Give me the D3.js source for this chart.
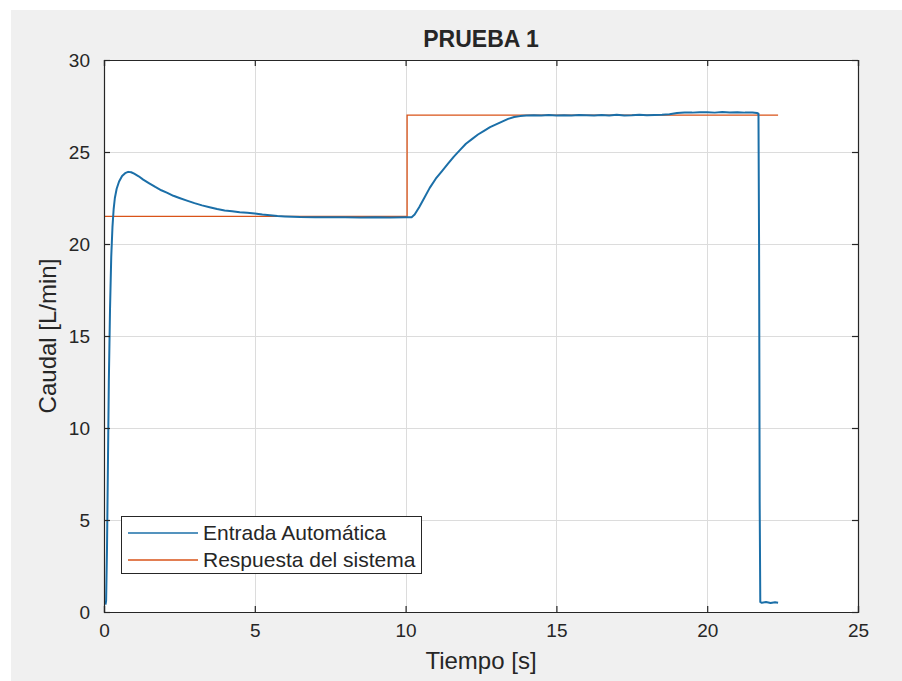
<!DOCTYPE html>
<html>
<head>
<meta charset="utf-8">
<script src="https://cdn.jsdelivr.net/npm/d3@7"></script>
<style>
  html, body { margin: 0; padding: 0; background: #ffffff; }
  svg { display: block; }
  text { font-family: "Liberation Sans", Arial, Helvetica, sans-serif; fill: #262626; }
</style>
</head>
<body>
<svg id="fig" width="902" height="681"></svg>
<script>
// Ensayo de caudal: entrada automática medida y respuesta del sistema (consigna)
const tituloGrafico = "PRUEBA 1";
const etiquetaX = "Tiempo [s]";
const etiquetaY = "Caudal [L/min]";
const ticksX = [0, 5, 10, 15, 20, 25];
const ticksY = [0, 5, 10, 15, 20, 25, 30];
const nombresSeries = ["Entrada Automática", "Respuesta del sistema"];

// Serie medida (tiempo en s, caudal en L/min)
const tiempoEntrada = [
  0.05, 0.07, 0.10, 0.13, 0.16, 0.20, 0.24, 0.28, 0.32, 0.36, 0.42, 0.50,
  0.60, 0.70, 0.80, 0.90, 1.00, 1.15, 1.30, 1.50, 1.70, 1.90, 2.10, 2.30,
  2.50, 2.75, 3.00, 3.25, 3.50, 3.75, 4.00, 4.25, 4.50, 4.75, 5.00, 5.25,
  5.50, 5.75, 6.00, 6.50, 7.00, 7.50, 8.00, 8.50, 9.00, 9.50, 10.00, 10.20,
  10.30, 10.45, 10.60, 10.80, 11.00, 11.20, 11.40, 11.60, 11.80, 12.00, 12.20, 12.40,
  12.60, 12.80, 13.00, 13.20, 13.40, 13.60, 13.80, 14.00, 14.25, 14.50, 14.75, 15.00,
  15.25, 15.50, 15.75, 16.00, 16.25, 16.50, 16.75, 17.00, 17.25, 17.50, 17.75, 18.00,
  18.25, 18.50, 18.75, 19.00, 19.25, 19.50, 19.75, 20.00, 20.25, 20.50, 20.75, 21.00,
  21.25, 21.50, 21.65, 21.70, 21.72, 21.74, 21.76, 21.80, 21.95, 22.10, 22.25, 22.35
];
const caudalEntrada = [
  0.4, 0.6, 3.5, 8.0, 12.5, 16.5, 19.3, 20.9, 21.9, 22.5, 23.0, 23.4,
  23.7, 23.85, 23.92, 23.9, 23.82, 23.68, 23.5, 23.3, 23.1, 22.92, 22.78, 22.62,
  22.5, 22.36, 22.22, 22.1, 22.0, 21.9, 21.82, 21.78, 21.72, 21.7, 21.66, 21.6,
  21.56, 21.52, 21.5, 21.47, 21.46, 21.45, 21.46, 21.44, 21.45, 21.44, 21.45, 21.46,
  21.6, 22.0, 22.45, 23.05, 23.55, 23.95, 24.35, 24.75, 25.1, 25.45, 25.7, 25.95,
  26.15, 26.35, 26.5, 26.65, 26.8, 26.9, 26.95, 26.98, 27.0, 26.98, 27.01, 26.99,
  27.0, 26.98, 27.01, 27.0, 26.99, 27.01, 26.99, 27.02, 26.99, 27.0, 27.02, 27.0,
  27.01, 27.02, 27.05, 27.12, 27.15, 27.14, 27.16, 27.16, 27.14, 27.17, 27.15, 27.16,
  27.14, 27.15, 27.12, 27.08, 20.0, 6.0, 0.55, 0.5, 0.54, 0.49, 0.53, 0.5
];

// Consigna escalonada
const tiempoRespuesta = [0, 10.05, 22.35];
const caudalRespuesta = [21.5, 27, 27];

const colores = ["#1b6fa8", "#d95319"];

const svg = d3.select("#fig");
const W = 902, H = 681;
const area = { left: 104, right: 858, top: 60, bottom: 612 };

// fondo de la figura
svg.append("rect").attr("x", 0).attr("y", 0).attr("width", W).attr("height", H).attr("fill", "#ffffff");
svg.append("rect").attr("x", 11).attr("y", 10).attr("width", W - 11).attr("height", H - 10).attr("fill", "#f0f0f0");

const x = d3.scaleLinear().domain([0, 25]).range([area.left, area.right]);
const y = d3.scaleLinear().domain([0, 30]).range([area.bottom, area.top]);

// área de trazado
svg.append("rect")
  .attr("x", area.left).attr("y", area.top)
  .attr("width", area.right - area.left).attr("height", area.bottom - area.top)
  .attr("fill", "#ffffff");

// rejilla
const rejilla = svg.append("g").attr("stroke", "#dcdcdc").attr("stroke-width", 1);
rejilla.selectAll(".gx").data(ticksX.slice(1, -1)).join("line")
  .attr("x1", d => Math.round(x(d)) + 0.5).attr("x2", d => Math.round(x(d)) + 0.5)
  .attr("y1", area.top).attr("y2", area.bottom);
rejilla.selectAll(".gy").data(ticksY.slice(1, -1)).join("line")
  .attr("y1", d => Math.round(y(d)) + 0.5).attr("y2", d => Math.round(y(d)) + 0.5)
  .attr("x1", area.left).attr("x2", area.right);

// series
const lineaEntrada = d3.line()
  .x((d, i) => x(tiempoEntrada[i]))
  .y(d => y(d));
const lineaRespuesta = d3.line()
  .x((d, i) => x(tiempoRespuesta[i]))
  .y(d => y(d))
  .curve(d3.curveStepAfter);

svg.append("path").datum(caudalRespuesta)
  .attr("d", lineaRespuesta)
  .attr("fill", "none").attr("stroke", colores[1]).attr("stroke-width", 1.3);

svg.append("path").datum(caudalEntrada)
  .attr("d", lineaEntrada)
  .attr("fill", "none").attr("stroke", colores[0]).attr("stroke-width", 2)
  .attr("stroke-linejoin", "round");

// ejes con marcas interiores en los cuatro lados
const tk = 6;
const ejes = svg.append("g");
ejes.append("g").attr("transform", `translate(0,${area.bottom})`)
  .call(d3.axisBottom(x).tickValues(ticksX).tickSize(-tk).tickPadding(12).tickFormat(d3.format("d")));
ejes.append("g").attr("transform", `translate(0,${area.top})`)
  .call(d3.axisTop(x).tickValues(ticksX).tickSize(-tk).tickFormat(""));
ejes.append("g").attr("transform", `translate(${area.left},0)`)
  .call(d3.axisLeft(y).tickValues(ticksY).tickSize(-tk).tickPadding(14).tickFormat(d3.format("d")));
ejes.append("g").attr("transform", `translate(${area.right},0)`)
  .call(d3.axisRight(y).tickValues(ticksY).tickSize(-tk).tickFormat(""));
ejes.selectAll(".domain").attr("stroke", "#262626").attr("stroke-width", 1.2);
ejes.selectAll(".tick line").attr("stroke", "#262626").attr("stroke-width", 1.2);
ejes.selectAll(".tick text")
  .attr("fill", "#333333")
  .style("font-family", "'Liberation Sans', Arial, sans-serif")
  .style("font-size", "19px");

// título y rótulos
svg.append("text")
  .attr("x", (area.left + area.right) / 2).attr("y", 47)
  .attr("text-anchor", "middle")
  .style("font-size", "23px").style("font-weight", "bold")
  .attr("fill", "#000000")
  .text(tituloGrafico);

svg.append("text")
  .attr("x", (area.left + area.right) / 2).attr("y", 669)
  .attr("text-anchor", "middle")
  .style("font-size", "24px")
  .attr("fill", "#333333")
  .text(etiquetaX);

svg.append("text")
  .attr("transform", `translate(56,${(area.top + area.bottom) / 2}) rotate(-90)`)
  .attr("text-anchor", "middle")
  .style("font-size", "24px")
  .attr("fill", "#333333")
  .text(etiquetaY);

// leyenda
const ley = svg.append("g").attr("transform", "translate(121,516)");
ley.append("rect").attr("x", 0.5).attr("y", 0.5).attr("width", 300).attr("height", 57)
  .attr("fill", "#ffffff").attr("stroke", "#262626").attr("stroke-width", 1);
nombresSeries.forEach((nombre, i) => {
  const cy = 17 + i * 27;
  ley.append("line").attr("x1", 7).attr("x2", 77).attr("y1", cy).attr("y2", cy)
    .attr("stroke", colores[i]).attr("stroke-width", 1.3);
  ley.append("text").attr("x", 82).attr("y", cy).attr("dy", "0.35em")
    .style("font-size", "21px").text(nombre);
});
</script>
</body>
</html>
